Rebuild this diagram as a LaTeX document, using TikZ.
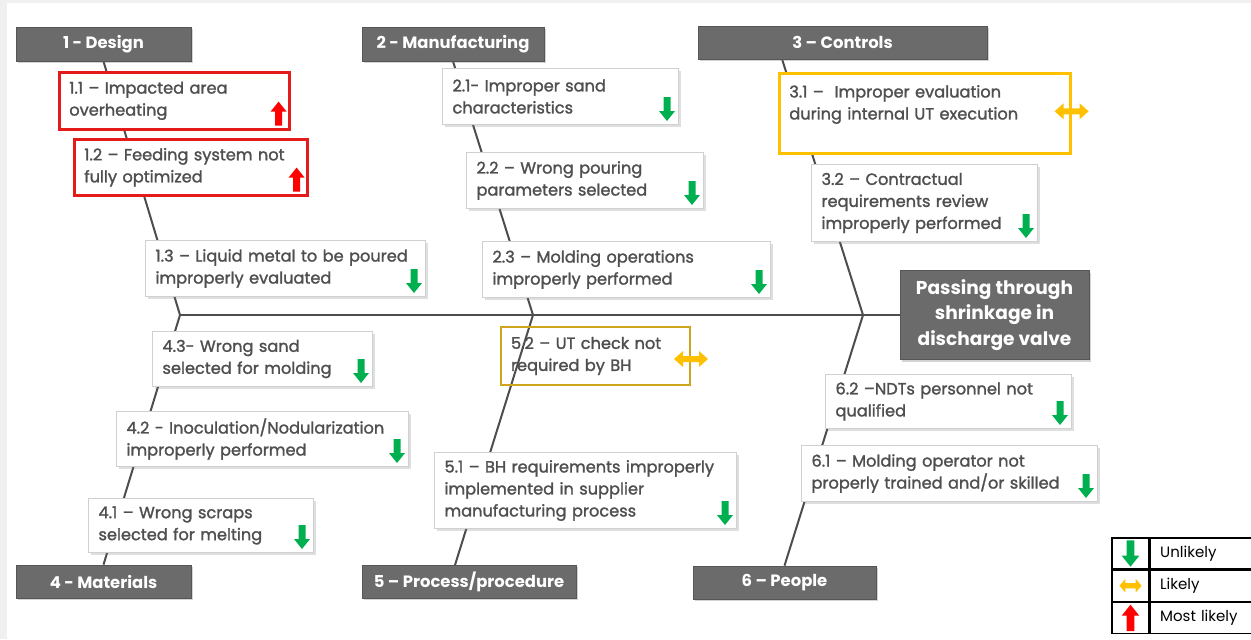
\documentclass[tikz,border=0pt]{standalone}
\usepackage{fontspec}
\setmainfont{Poppins}
\newfontfamily\causefont{Poppins}[FakeBold=1.5]
\usetikzlibrary{positioning, shadows, backgrounds}
\definecolor{catGray}{HTML}{6B6B6B}
\definecolor{boneGray}{HTML}{4D4D4D}
\definecolor{causeText}{HTML}{4F4F4F}
\definecolor{boxLine}{HTML}{D0D0D0}
\definecolor{unlikelyGreen}{HTML}{00B050}
\definecolor{likelyOrange}{HTML}{FFC000}
\definecolor{mostRed}{HTML}{FF0000}
\definecolor{redEdge}{HTML}{E31B1B}
\definecolor{goldEdge}{HTML}{CFA51E}
\definecolor{sideGray}{HTML}{F0F0F0}
\hyphenpenalty=10000

\tikzset{
  pics/unlikely/.style={code={
    \fill[unlikelyGreen] (-3.5,-12) -- (3.5,-12) -- (3.5,2) -- (8,2) -- (0,12) -- (-8,2) -- (-3.5,2) -- cycle;}},
  pics/mostlikely/.style={code={
    \fill[mostRed] (-3.5,12) -- (3.5,12) -- (3.5,-2) -- (8,-2) -- (0,-12) -- (-8,-2) -- (-3.5,-2) -- cycle;}},
  pics/likely/.style={code={
    \fill[likelyOrange] (-17,0) -- (-8,-8) -- (-8,-3) -- (8,-3) -- (8,-8) -- (17,0) -- (8,8) -- (8,3) -- (-8,3) -- (-8,8) -- cycle;}},
}

\begin{document}
\begin{tikzpicture}[x=0.5pt, y=-0.5pt,
    cat/.style={fill=catGray, draw=catGray!80!black, text=white,
      font=\bfseries\fontsize{8.2}{10}\selectfont, minimum height=17pt, inner sep=0pt,
      drop shadow={shadow xshift=1pt, shadow yshift=-1pt, opacity=0.35}},
    causebase/.style={draw=boxLine, line width=0.5pt, anchor=north west, align=left,
      inner xsep=5pt, inner ysep=2pt, text=causeText,
      font=\causefont\fontsize{8.1}{11}\selectfont},
    cause/.style={causebase, fill=white,
      drop shadow={shadow xshift=1pt, shadow yshift=-1pt, opacity=0.25}},
    mostcause/.style={cause, draw=redEdge, line width=1.3pt},
    likelycause/.style={cause, draw=likelyOrange, line width=1.3pt},
    bone/.style={draw=boneGray, line width=1pt},
    legkey/.style={draw=black, line width=0.6pt, minimum width=18.5pt, minimum height=15.5pt, inner sep=0pt},
    legtext/.style={draw=black, line width=0.6pt, minimum height=15.5pt, text width=50pt,
      inner xsep=5pt, align=left, font=\fontsize{7.5}{9}\selectfont}]

  \useasboundingbox (0,0) rectangle (1251,639);
  \fill[sideGray] (0,0) rectangle (7,639);
  \fill[sideGray] (0,0) rectangle (1251,3);

  % categories
  \node[cat, minimum width=87.5pt] (h1) at (103.5,44) {1 - Design};
  \node[cat, minimum width=91pt] (h2) at (453,44) {2 - Manufacturing};
  \node[cat, minimum width=144.5pt, minimum height=16.5pt] (h3) at (842.5,42.5) {3 – Controls};
  \node[cat, minimum width=87.5pt, minimum height=16.5pt] (h4) at (103.5,581.5) {4 - Materials};
  \node[cat, minimum width=107pt, minimum height=16.5pt] (h5) at (469,581.5) {5 – Process/procedure};
  \node[cat, minimum width=91.5pt, minimum height=16.5pt] (h6) at (784.5,582.5) {6 – People};

  % effect
  \node[cat, font=\bfseries\fontsize{9.3}{12.75}\selectfont, align=center,
    minimum width=94.5pt, minimum height=44.5pt] (eff) at (994.5,315) {Passing through\\shrinkage in\\discharge valve};

  \coordinate (j1) at (180,315);
  \coordinate (j2) at (533,315);
  \coordinate (j3) at (863,315);
  \coordinate (b3) at (782,59);
  \coordinate (b5) at (455,565);

  % design
  \node[mostcause, text width=105pt, minimum height=28.5pt] (c11) at (58,71) {1.1 – Impacted area\\overheating};
  \node[mostcause, text width=106.5pt, minimum height=28pt] (c12) at (73,138) {1.2 – Feeding system not\\fully optimized};
  \node[cause, text width=130pt, minimum height=28pt] (c13) at (145,240) {1.3 – Liquid metal to be poured\\improperly evaluated};

  % manufacturing
  \node[cause, text width=108pt, minimum height=28pt] (c21) at (442,68) {2.1- Improper sand\\characteristics};
  \node[cause, text width=108.5pt, minimum height=28pt] (c22) at (466,152) {2.2 – Wrong pouring\\parameters selected};
  \node[cause, text width=134pt, minimum height=28pt] (c23) at (482,241) {2.3 – Molding operations\\improperly performed};

  % controls
  \node[likelycause, text width=135.5pt, minimum height=40pt] (c31) at (778,72) {3.1 –~ Improper evaluation\\during internal UT execution\\\mbox{}};
  \node[cause, text width=103pt, minimum height=38.5pt] (c32) at (811,164) {3.2 – Contractual\\requirements review\\improperly performed};

  % materials
  \node[cause, text width=100pt, minimum height=27.5pt] (c43) at (152,331) {4.3- Wrong sand\\selected for molding};
  \node[cause, text width=136pt, minimum height=27.5pt] (c42) at (116,411) {4.2 - Inoculation/Nodularization\\improperly performed};
  \node[cause, text width=102.5pt, minimum height=27pt] (c41) at (88,498) {4.1 – Wrong scraps\\selected for melting};

  % process/procedure
  \node[causebase, draw=goldEdge, line width=1pt, text width=84.5pt, minimum height=29pt] (c52) at (500,326) {5.2 – UT check not\\required by BH};
  \node[cause, text width=141pt, minimum height=38pt] (c51) at (434,452) {5.1 – BH requirements improperly\\implemented in supplier\\manufacturing process};

  % people
  \node[cause, text width=113pt, minimum height=27pt] (c62) at (825,374) {6.2 –NDTs personnel not\\qualified};
  \node[cause, text width=138pt, minimum height=28pt] (c61) at (801,445) {6.1 – Molding operator not\\properly trained and/or skilled};

  % likelihood marks
  \pic at ([shift={(-12,-17)}]c11.south east) {mostlikely};
  \pic at ([shift={(-12,-17)}]c12.south east) {mostlikely};
  \foreach \c in {c13,c21,c22,c23,c32,c43,c42,c41,c51,c62,c61}
    \pic at ([shift={(-12,-16)}]\c.south east) {unlikely};
  \pic at ([yshift=1pt]c31.east) {likely};
  \pic at ([yshift=-1.5pt]c52.east) {likely};

  % bones
  \begin{scope}[on background layer]
    \draw[bone] (j1) -- (eff.west);
    \draw[bone] (h1.south) -- (j1) -- (h4.north);
    \draw[bone] (h2.south) -- (j2) -- (b5);
    \draw[bone] (b3) -- (j3) -- (h6.north);
  \end{scope}

  % legend
  \node[legkey] (k1) at (1130.5,553.5) {};
  \node[legtext, right=0pt of k1] (t1) {Unlikely};
  \node[legkey, below=0pt of k1] (k2) {};
  \node[legtext, right=0pt of k2] (t2) {Likely};
  \node[legkey, below=0pt of k2] (k3) {};
  \node[legtext, right=0pt of k3] (t3) {Most likely};
  \pic[scale=1.1] at (k1) {unlikely};
  \pic[xscale=0.65, yscale=0.85] at (k2) {likely};
  \pic[scale=1.1] at (k3) {mostlikely};
\end{tikzpicture}
\end{document}
